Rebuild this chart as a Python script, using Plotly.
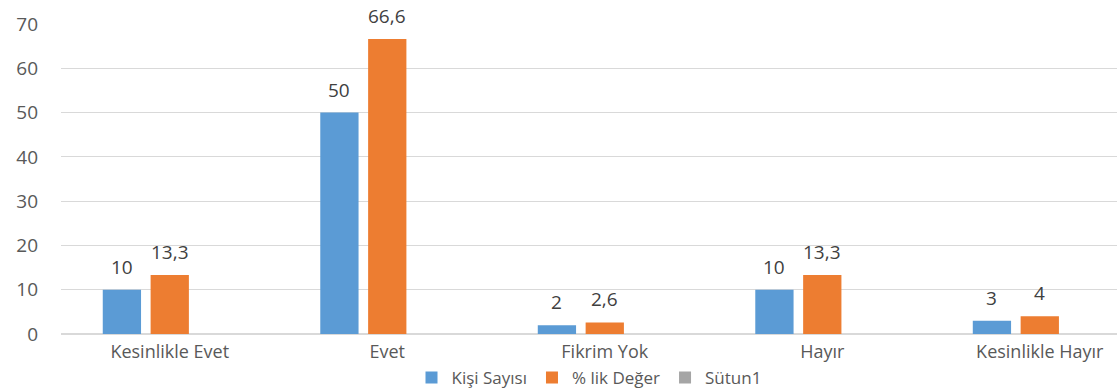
import plotly.graph_objects as go

categories = ["Kesinlikle Evet", "Evet", "Fikrim Yok", "Hayır", "Kesinlikle Hayır"]
kisi_sayisi = [10, 50, 2, 10, 3]
yuzde_deger = [13.3, 66.6, 2.6, 13.3, 4]
sutun1 = [None, None, None, None, None]
y_ticks = [0, 10, 20, 30, 40, 50, 60, 70]

series = [
    ("Kişi Sayısı", kisi_sayisi, "#5B9BD5"),
    ("% lik Değer", yuzde_deger, "#ED7D31"),
    ("Sütun1", sutun1, "#A5A5A5"),
]

FONT = "Open Sans"
TXT = "#595959"
fig = go.Figure()
for name, vals, color in series:
    fig.add_trace(go.Bar(
        x=categories, y=vals, name=name,
        marker=dict(color=color, line=dict(width=0)),
    ))


def fmt(v):
    s = f"{v:g}"
    return s.replace(".", ",")


# value labels above each bar (slot offset in px within the group)
slot_px = 48
annotations = []
for i, (name, vals, color) in enumerate(series):
    for cat, v in zip(categories, vals):
        if v is None:
            continue
        annotations.append(dict(
            x=cat, y=v, xref="x", yref="y", text=fmt(v),
            showarrow=False, yanchor="bottom", xanchor="center",
            xshift=(i - 1) * slot_px, yshift=8,
            font=dict(family=FONT, size=19, color="#404040"),
        ))

fig.update_layout(
    width=1117, height=390,
    margin=dict(l=61, r=0, t=24, b=56, autoexpand=False),
    paper_bgcolor="white", plot_bgcolor="white",
    barmode="group", bargap=0.34, bargroupgap=0.2,
    font=dict(family=FONT, size=19, color=TXT),
    showlegend=True,
    legend=dict(orientation="h", x=0.5, xanchor="center", y=-0.142, yanchor="middle",
                bgcolor="rgba(0,0,0,0)",
                font=dict(family=FONT, size=17, color=TXT),
                itemwidth=30, traceorder="normal", tracegroupgap=0),
    annotations=annotations,
)
fig.update_xaxes(range=[-0.5, 4.355], showgrid=False, showline=False, ticks="",
                 ticklabelstandoff=5, automargin=False,
                 tickfont=dict(family=FONT, size=18, color=TXT))
fig.update_yaxes(range=[0, 70], tickvals=y_ticks, showgrid=True, gridcolor="#D9D9D9",
                 gridwidth=1, zeroline=True, zerolinecolor="#D9D9D9", showline=False,
                 ticks="", ticklabelstandoff=22, automargin=False,
                 tickfont=dict(family=FONT, size=19, color=TXT))

fig.write_html("out.html")
